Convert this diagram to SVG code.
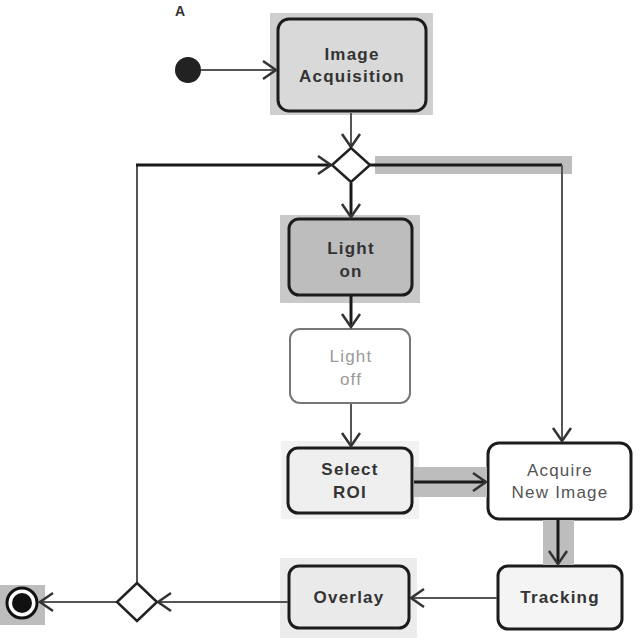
<svg xmlns="http://www.w3.org/2000/svg" width="640" height="640" viewBox="0 0 640 640">
<style>
.box{stroke:#1c1c1c;stroke-width:3}
.t{font-family:"Liberation Sans",Arial,sans-serif;font-size:17px;letter-spacing:1.2px;text-anchor:middle}
.b{font-weight:bold;fill:#333}
.n{fill:#555}
.ln{fill:none;stroke:#555;stroke-width:2}
.thk{fill:none;stroke:#1a1a1a;stroke-width:3}
.band{fill:#bdbdbd}
</style>
<defs>
<marker id="ah" markerWidth="20" markerHeight="22" refX="16" refY="11" orient="auto" markerUnits="userSpaceOnUse">
<path d="M3,2 L16,11 L3,20" fill="none" stroke="#333" stroke-width="2.5"/>
</marker>
</defs>
<rect width="640" height="640" fill="#fff"/>
<text x="180" y="16" class="t b" style="font-size:14px;letter-spacing:0">A</text>

<g id="start"><circle cx="188" cy="70" r="13" fill="#222"/></g>

<g id="image-acquisition">
<rect x="270" y="13" width="163" height="102" fill="#cfcfcf"/>
<rect class="box" x="278" y="19" width="148" height="92" rx="11" fill="#d9d9d9"/>
<text class="t b" x="352" y="60">Image</text>
<text class="t b" x="352" y="82">Acquisition</text>
</g>

<g id="light-on">
<rect x="280" y="215" width="140" height="88" fill="#c9c9c9"/>
<rect class="box" x="289" y="219" width="123" height="76" rx="10" fill="#bdbdbd"/>
<text class="t b" x="351" y="254">Light</text>
<text class="t b" x="351" y="277">on</text>
</g>

<g id="light-off">
<rect x="290" y="329" width="120" height="74" rx="10" fill="#fff" stroke="#777" stroke-width="2"/>
<text class="t" x="351" y="362" fill="#999">Light</text>
<text class="t" x="351" y="385" fill="#999">off</text>
</g>

<g id="select-roi">
<rect x="281" y="441" width="138" height="78" fill="#f2f2f2"/>
<rect class="box" x="288" y="448" width="124" height="65" rx="10" fill="#efefef"/>
<text class="t b" x="350" y="475">Select</text>
<text class="t b" x="350" y="498">ROI</text>
</g>

<g id="acquire-new-image">
<rect class="box" x="488" y="443" width="143" height="76" rx="11" fill="#fff" stroke-width="2.5"/>
<text class="t n" x="560" y="476">Acquire</text>
<text class="t n" x="560" y="498">New Image</text>
</g>

<g id="tracking">
<rect class="box" x="498" y="566" width="124" height="63" rx="10" fill="#f4f4f4"/>
<text class="t b" x="560" y="603" fill="#444">Tracking</text>
</g>

<g id="overlay">
<rect x="280" y="558" width="137" height="80" fill="#ececec"/>
<rect class="box" x="289" y="566" width="120" height="62" rx="10" fill="#eaeaea"/>
<text class="t b" x="349" y="603" fill="#444">Overlay</text>
</g>

<g id="end">
<rect x="0" y="585" width="45" height="40" fill="#bdbdbd"/>
<circle cx="22" cy="603" r="15" fill="#fff" stroke="#111" stroke-width="3"/>
<circle cx="22" cy="603" r="10" fill="#111"/>
</g>

<g id="connectors">
<rect class="band" x="375" y="156" width="197" height="18"/>
<rect class="band" x="414" y="467" width="73" height="30"/>
<rect class="band" x="543" y="520" width="31" height="45"/>
<line class="ln" x1="201" y1="70" x2="276" y2="70" marker-end="url(#ah)"/>
<line class="ln" x1="351" y1="113" x2="351" y2="147" marker-end="url(#ah)"/>
<line class="thk" x1="351" y1="183" x2="351" y2="217" marker-end="url(#ah)"/>
<line class="thk" x1="351" y1="296" x2="351" y2="327" marker-end="url(#ah)"/>
<line class="ln" x1="351" y1="404" x2="351" y2="446" marker-end="url(#ah)"/>
<line class="thk" x1="414" y1="482" x2="486" y2="482" marker-end="url(#ah)"/>
<path class="thk" d="M370,165 H562"/>
<path class="ln" d="M562,165 V441" marker-end="url(#ah)"/>
<line class="thk" x1="558" y1="520" x2="558" y2="564" marker-end="url(#ah)"/>
<line class="ln" x1="497" y1="598" x2="411" y2="598" marker-end="url(#ah)"/>
<line class="ln" x1="288" y1="602" x2="158" y2="602" marker-end="url(#ah)"/>
<line class="ln" x1="116" y1="602" x2="40" y2="602" marker-end="url(#ah)"/>
<path class="ln" d="M137,583 V165"/>
<path class="thk" d="M136,165 H331" marker-end="url(#ah)"/>
</g>

<g id="decision-top"><path d="M351,148 L370,165 L351,182 L332,165 Z" fill="#fff" stroke="#222" stroke-width="2.5"/></g>
<g id="decision-bottom"><path d="M137,583 L157,602 L137,621 L117,602 Z" fill="#fff" stroke="#222" stroke-width="2.5"/></g>
</svg>
